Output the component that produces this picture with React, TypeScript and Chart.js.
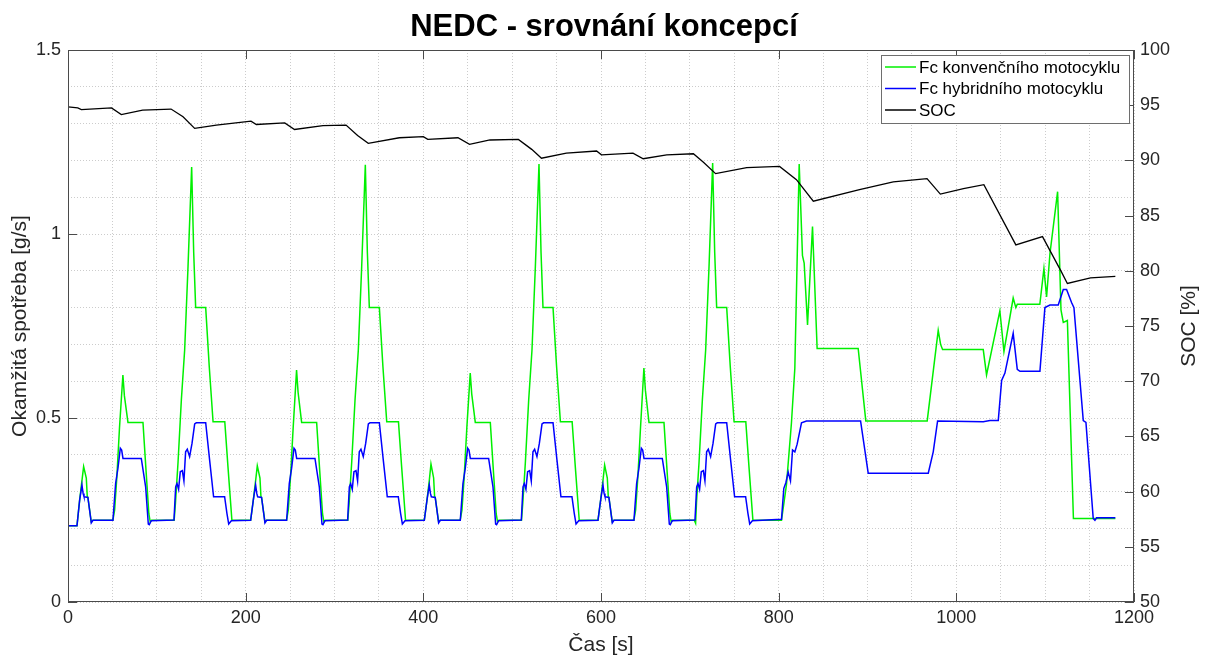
import React, { useEffect, useRef } from 'react';
import { Chart, registerables } from 'chart.js';

Chart.register(...registerables);

const FONT = '"Liberation Sans", Arial, Helvetica, sans-serif';
const TEXT = '#262626';

const titleText = 'NEDC - srovnání koncepcí';
const xTitle = 'Čas [s]';
const yLeftTitle = 'Okamžitá spotřeba [g/s]';
const yRightTitle = 'SOC [%]';

const xMajorTicks = [0, 200, 400, 600, 800, 1000, 1200];
const yLeftTicks = [0, 0.5, 1, 1.5];
const yRightTicks = [50, 55, 60, 65, 70, 75, 80, 85, 90, 95, 100];

const seriesLabels = ['Fc konvenčního motocyklu', 'Fc hybridního motocyklu', 'SOC'];
const seriesColors = ['#00f000', '#0000ff', '#000000'];

// Fc of conventional motorcycle [g/s] : [time s, value]
const convEce1 = [[0,0.207],[10.1,0.207],[13.1,0.277],[15.7,0.33],[17.6,0.368],[20.6,0.337],[21.7,0.286],[22.4,0.284],[26.2,0.218],[28.1,0.222],[50.5,0.222],[52.5,0.25],[55,0.34],[58,0.475],[61.8,0.617],[63.5,0.56],[67.5,0.488],[84.4,0.488],[87.5,0.37],[91,0.24],[92.6,0.217],[94,0.222],[119.5,0.222],[121,0.27],[123.8,0.377],[127.6,0.549],[131.3,0.684],[135.1,0.911],[139.2,1.182],[141.5,0.95],[143.7,0.8],[155,0.8],[159,0.64],[163.3,0.49],[176.5,0.49],[180,0.37],[184.5,0.222]];
const convEce2 = [[205.6,0.222],[208.6,0.277],[211.2,0.33],[213.1,0.37],[216.1,0.337],[217.2,0.286],[217.9,0.284],[221.7,0.218],[223.6,0.222],[246,0.222],[248,0.25],[250.5,0.34],[253.5,0.475],[257.3,0.63],[259,0.57],[263,0.488],[279.9,0.488],[283,0.37],[286.5,0.24],[288.1,0.217],[289.5,0.222],[315,0.222],[316.5,0.27],[319.3,0.377],[323.1,0.549],[326.8,0.684],[330.6,0.911],[334.7,1.188],[337,0.95],[339.2,0.8],[350.5,0.8],[354.5,0.64],[358.8,0.49],[372,0.49],[375.5,0.37],[380,0.222]];
const convEce3 = [[401.1,0.222],[404.1,0.277],[406.7,0.33],[408.6,0.375],[411.6,0.337],[412.7,0.286],[413.4,0.284],[417.2,0.218],[419.1,0.222],[441.5,0.222],[443.5,0.25],[446,0.34],[449,0.475],[452.8,0.622],[454.5,0.565],[458.5,0.488],[475.4,0.488],[478.5,0.37],[482,0.24],[483.6,0.217],[485,0.222],[510.5,0.222],[512,0.27],[514.8,0.377],[518.6,0.549],[522.3,0.684],[526.1,0.911],[530.2,1.19],[532.5,0.95],[534.7,0.8],[546,0.8],[550,0.64],[554.3,0.49],[567.5,0.49],[571,0.37],[575.5,0.222]];
const convEce4 = [[596.6,0.222],[599.6,0.277],[602.2,0.33],[604.1,0.372],[607.1,0.337],[608.2,0.286],[608.9,0.284],[612.7,0.218],[614.6,0.222],[637,0.222],[639,0.25],[641.5,0.34],[644.5,0.475],[648.3,0.636],[650,0.575],[654,0.488],[670.9,0.488],[674,0.37],[677.5,0.24],[679.1,0.217],[680.5,0.222],[705,0.222],[706.5,0.214],[707.5,0.27],[710.3,0.377],[714.1,0.549],[717.8,0.684],[721.6,0.911],[725.7,1.193],[728,0.95],[730.2,0.8],[741.5,0.8],[745.5,0.64],[749.8,0.49],[763,0.49],[766.5,0.37],[771,0.222]];
const convEudc = [[803.2,0.222],[808.8,0.319],[814.4,0.487],[818.2,0.635],[823.1,1.19],[826.8,0.941],[828.7,0.921],[832.5,0.753],[838.1,1.02],[843.3,0.689],[889.5,0.689],[898.1,0.492],[967.2,0.492],[979.6,0.738],[982.3,0.7],[984.5,0.686],[1030.3,0.686],[1034,0.617],[1049,0.791],[1053.6,0.681],[1064,0.826],[1067,0.8],[1068.6,0.809],[1094,0.809],[1098.6,0.906],[1101.6,0.829],[1105.4,0.947],[1114,1.115],[1117.8,0.794],[1120.4,0.76],[1125,0.765],[1131.8,0.227],[1179,0.227]];

// Fc of hybrid motorcycle [g/s] : [time s, value]
const hybEce1 = [[0,0.207],[10.1,0.207],[13.1,0.277],[15.7,0.318],[17,0.295],[18,0.286],[22.4,0.284],[26.2,0.215],[28.1,0.222],[50.6,0.222],[53.6,0.322],[56.2,0.363],[58.9,0.418],[60.4,0.413],[61.9,0.39],[82.5,0.39],[87.4,0.313],[90.4,0.212],[91.5,0.21],[93.7,0.221],[119.3,0.223],[121.2,0.313],[122.7,0.322],[124.5,0.306],[126.4,0.354],[128.7,0.357],[130.5,0.329],[132.4,0.408],[134.3,0.415],[136.9,0.395],[139.6,0.431],[142.6,0.484],[144.4,0.487],[155,0.487],[159.4,0.386],[163.9,0.286],[176.3,0.286],[178.9,0.241],[180.9,0.212],[183.9,0.221]];
const hybEce2 = [[205.6,0.222],[208.6,0.277],[211.2,0.318],[212.5,0.295],[213.5,0.286],[217.9,0.284],[221.7,0.215],[223.6,0.222],[246.1,0.222],[249.1,0.322],[251.7,0.363],[254.4,0.418],[255.9,0.413],[257.4,0.39],[278,0.39],[282.9,0.313],[285.9,0.212],[287,0.21],[289.2,0.221],[314.8,0.223],[316.7,0.313],[318.2,0.322],[320,0.306],[321.9,0.354],[324.2,0.357],[326,0.329],[327.9,0.408],[329.8,0.415],[332.4,0.395],[335.1,0.431],[338.1,0.484],[339.9,0.487],[350.5,0.487],[354.9,0.386],[359.4,0.286],[371.8,0.286],[374.4,0.241],[376.4,0.212],[379.4,0.221]];
const hybEce3 = [[401.1,0.222],[404.1,0.277],[406.7,0.318],[408,0.295],[409,0.286],[413.4,0.284],[417.2,0.215],[419.1,0.222],[441.6,0.222],[444.6,0.322],[447.2,0.363],[449.9,0.418],[451.4,0.413],[452.9,0.39],[473.5,0.39],[478.4,0.313],[481.4,0.212],[482.5,0.21],[484.7,0.221],[510.3,0.223],[512.2,0.313],[513.7,0.322],[515.5,0.306],[517.4,0.354],[519.7,0.357],[521.5,0.329],[523.4,0.408],[525.3,0.415],[527.9,0.395],[530.6,0.431],[533.6,0.484],[535.4,0.487],[546,0.487],[550.4,0.386],[554.9,0.286],[567.3,0.286],[569.9,0.241],[571.9,0.212],[574.9,0.221]];
const hybEce4 = [[596.6,0.222],[599.6,0.277],[602.2,0.318],[603.5,0.295],[604.5,0.286],[608.9,0.284],[612.7,0.215],[614.6,0.222],[637.1,0.222],[640.1,0.322],[642.7,0.363],[645.4,0.418],[646.9,0.413],[648.4,0.39],[669,0.39],[673.9,0.313],[676.9,0.212],[678,0.21],[680.2,0.221],[705.8,0.223],[707.7,0.313],[709.2,0.322],[711,0.306],[712.9,0.354],[715.2,0.357],[717,0.329],[718.9,0.408],[720.8,0.415],[723.4,0.395],[726.1,0.431],[729.1,0.484],[730.9,0.487],[741.5,0.487],[745.9,0.386],[750.4,0.286],[762.8,0.286],[765.4,0.241],[767.4,0.212],[770.4,0.221]];
const hybEudc = [[803.2,0.225],[805.8,0.309],[808.1,0.324],[810.7,0.353],[813.3,0.329],[815.6,0.413],[818.2,0.408],[820.8,0.429],[825.7,0.487],[831.3,0.492],[892.2,0.492],[900.8,0.35],[968.4,0.35],[974,0.408],[978.9,0.492],[1030.3,0.49],[1037.8,0.493],[1047.2,0.493],[1051,0.602],[1054.7,0.622],[1064,0.73],[1068.6,0.632],[1071.6,0.627],[1094.1,0.627],[1099.7,0.8],[1105.4,0.807],[1114.7,0.807],[1120.4,0.849],[1124.1,0.849],[1129.7,0.814],[1132.4,0.8],[1142.9,0.493],[1145.9,0.488],[1154.1,0.227],[1156,0.222],[1157.9,0.229],[1179,0.229]];

// State of charge [%] : [time s, value]
const socPoints = [[0,94.85],[11,94.75],[15,94.6],[49,94.75],[60,94.15],[84,94.55],[116,94.65],[129.5,93.95],[142.6,92.9],[167,93.2],[206,93.55],[212,93.25],[244,93.4],[255,92.8],[287,93.15],[313,93.2],[326,92.25],[338,91.55],[373,92.05],[400,92.15],[405,91.9],[439,92.05],[452,91.45],[475,91.85],[507,91.9],[522,91.0],[533,90.2],[561,90.65],[595,90.85],[600.5,90.5],[636,90.65],[647.5,90.15],[674,90.5],[704,90.6],[715,89.85],[729,88.8],[764,89.35],[801,89.45],[820,88.25],[839,86.3],[891,87.35],[929,88.05],[967,88.35],[982,86.95],[1008,87.45],[1031,87.8],[1067,82.35],[1097,83.1],[1118,79.95],[1125,78.85],[1151,79.35],[1179,79.5]];

const toXY = (arr: number[][]) => arr.map(([x, y]) => ({ x, y }));

const framePlugin = {
  id: 'matlabFrame',
  afterDatasetsDraw(chart: any) {
    const { ctx, chartArea, scales } = chart;
    const { left, right, top, bottom } = chartArea;
    ctx.save();
    ctx.strokeStyle = '#4a4a4a';
    ctx.lineWidth = 1;
    ctx.strokeRect(Math.round(left) + 0.5, Math.round(top) + 0.5, Math.round(right - left) - 1, Math.round(bottom - top) - 1);
    ctx.beginPath();
    const tl = 9;
    xMajorTicks.forEach((v) => {
      const px = Math.round(scales.x.getPixelForValue(v)) + 0.5;
      ctx.moveTo(px, bottom);
      ctx.lineTo(px, bottom - tl);
      ctx.moveTo(px, top);
      ctx.lineTo(px, top + tl);
    });
    yLeftTicks.forEach((v) => {
      const py = Math.round(scales.y.getPixelForValue(v)) + 0.5;
      ctx.moveTo(left, py);
      ctx.lineTo(left + tl, py);
    });
    yRightTicks.forEach((v) => {
      const py = Math.round(scales.y1.getPixelForValue(v)) + 0.5;
      ctx.moveTo(right, py);
      ctx.lineTo(right - tl, py);
    });
    ctx.stroke();
    ctx.restore();
  },
};

const rightTitlePlugin = {
  id: 'rightTitle',
  afterDraw(chart: any) {
    const { ctx, chartArea } = chart;
    ctx.save();
    ctx.translate(1189, (chartArea.top + chartArea.bottom) / 2);
    ctx.rotate(-Math.PI / 2);
    ctx.font = `21px ${FONT}`;
    ctx.fillStyle = TEXT;
    ctx.textAlign = 'center';
    ctx.textBaseline = 'middle';
    ctx.fillText(yRightTitle, 0, 0);
    ctx.restore();
  },
};

const legendPlugin = {
  id: 'boxLegend',
  afterDraw(chart: any) {
    const { ctx } = chart;
    const x0 = 881;
    const y0 = 55;
    const w = 248;
    const h = 68;
    ctx.save();
    ctx.fillStyle = '#ffffff';
    ctx.fillRect(x0, y0, w, h);
    ctx.strokeStyle = '#6e6e6e';
    ctx.lineWidth = 1;
    ctx.strokeRect(x0 + 0.5, y0 + 0.5, w, h);
    ctx.font = `17px ${FONT}`;
    ctx.textBaseline = 'middle';
    ctx.textAlign = 'left';
    chart.data.datasets.forEach((ds: any, i: number) => {
      const y = 67 + i * 21.5;
      ctx.strokeStyle = ds.borderColor;
      ctx.lineWidth = 1.5;
      ctx.beginPath();
      ctx.moveTo(885, y);
      ctx.lineTo(916, y);
      ctx.stroke();
      ctx.fillStyle = '#000000';
      ctx.fillText(ds.label, 919, y + 1);
    });
    ctx.restore();
  },
};

export default function App() {
  const ref = useRef<HTMLCanvasElement>(null);

  useEffect(() => {
    if (!ref.current) return;
    Chart.defaults.font.family = FONT;
    const gridColor = 'rgba(0,0,0,0.2)';
    const tickFont = { size: 18, family: FONT };
    const axisTitleFont = { size: 21, family: FONT };

    const chart = new Chart(ref.current, {
      type: 'line',
      data: {
        datasets: [
          {
            label: seriesLabels[0],
            data: toXY([...convEce1, ...convEce2, ...convEce3, ...convEce4, ...convEudc]),
            borderColor: seriesColors[0],
            borderWidth: 1.5,
            pointRadius: 0,
            tension: 0,
            yAxisID: 'y',
            order: 3,
          },
          {
            label: seriesLabels[1],
            data: toXY([...hybEce1, ...hybEce2, ...hybEce3, ...hybEce4, ...hybEudc]),
            borderColor: seriesColors[1],
            borderWidth: 1.5,
            pointRadius: 0,
            tension: 0,
            yAxisID: 'y',
            order: 2,
          },
          {
            label: seriesLabels[2],
            data: toXY(socPoints),
            borderColor: seriesColors[2],
            borderWidth: 1.3,
            pointRadius: 0,
            tension: 0,
            yAxisID: 'y1',
            order: 1,
          },
        ],
      },
      options: {
        animation: false,
        responsive: false,
        maintainAspectRatio: false,
        layout: { padding: 0 },
        plugins: {
          legend: { display: false },
          tooltip: { enabled: false },
          title: {
            display: true,
            text: titleText,
            color: '#000000',
            font: { size: 31, weight: 'bold', family: FONT },
            padding: { top: 9, bottom: 3.8 },
          },
        },
        scales: {
          x: {
            type: 'linear',
            min: 0,
            max: 1200,
            ticks: {
              stepSize: 50,
              autoSkip: false,
              maxRotation: 0,
              padding: 5,
              color: TEXT,
              font: tickFont,
              callback: (v: any) => (xMajorTicks.includes(Number(v)) ? String(v) : ''),
            },
            grid: { color: gridColor, drawTicks: false, lineWidth: 1 },
            border: { display: false, dash: [1, 2] },
            title: { display: true, text: xTitle, color: TEXT, font: { size: 21, family: FONT, lineHeight: 1.0 }, padding: { top: 0, bottom: 0 } },
            afterFit: (s: any) => {
              s.height = 54;
            },
          },
          y: {
            type: 'linear',
            position: 'left',
            min: 0,
            max: 1.5,
            ticks: {
              stepSize: 0.1,
              autoSkip: false,
              padding: 7,
              color: TEXT,
              font: tickFont,
              callback: (v: any) => {
                const r = Math.round(Number(v) * 10) / 10;
                return yLeftTicks.some((t) => Math.abs(t - r) < 1e-6) ? String(r) : '';
              },
            },
            grid: { color: gridColor, drawTicks: false, lineWidth: 1 },
            border: { display: false, dash: [1, 2] },
            title: { display: true, text: yLeftTitle, color: TEXT, font: axisTitleFont, padding: { top: 8, bottom: 0 } },
            afterFit: (s: any) => {
              s.width = 68;
            },
          },
          y1: {
            type: 'linear',
            position: 'right',
            min: 50,
            max: 100,
            ticks: {
              stepSize: 5,
              autoSkip: false,
              padding: 6,
              color: TEXT,
              font: tickFont,
              callback: (v: any) => (yRightTicks.includes(Number(v)) ? String(v) : ''),
            },
            grid: { drawOnChartArea: false, drawTicks: false },
            border: { display: false },
            title: { display: false, text: yRightTitle },
            afterFit: (s: any) => {
              s.width = 74;
            },
          },
        },
      } as any,
      plugins: [framePlugin, legendPlugin, rightTitlePlugin],
    });

    return () => chart.destroy();
  }, []);

  return (
    <div style={{ position: 'fixed', left: 0, top: 0, width: 1208, height: 656, background: '#ffffff' }}>
      <canvas ref={ref} width={1208} height={656} style={{ display: 'block', width: 1208, height: 656 }} />
    </div>
  );
}
